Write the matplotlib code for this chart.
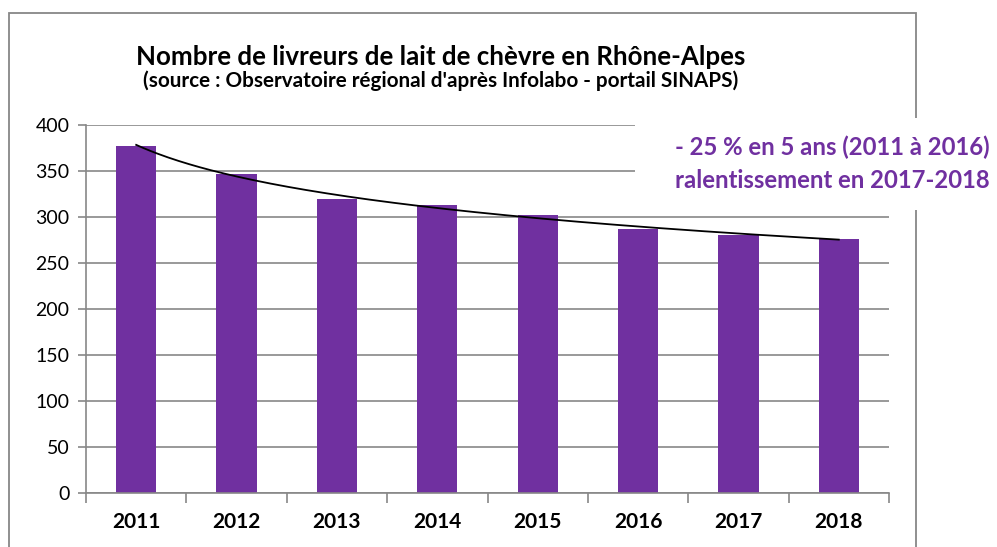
import numpy as np
import matplotlib
matplotlib.use("Agg")
import matplotlib.pyplot as plt
from matplotlib.patches import Rectangle

years = ["2011", "2012", "2013", "2014", "2015", "2016", "2017", "2018"]
livreurs = [377, 347, 320, 313, 302, 287, 280, 276]
yticks = [0, 50, 100, 150, 200, 250, 300, 350, 400]
title = "Nombre de livreurs de lait de chèvre en Rhône-Alpes"
subtitle = "(source : Observatoire régional d'après Infolabo - portail SINAPS)"
note_lines = ["- 25 % en 5 ans (2011 à 2016)", "ralentissement en 2017-2018"]

W, H = 997, 547
PURPLE = "#7030A0"
GRAY = "#878787"
FONT = ["Lato", "DejaVu Sans"]

plt.rcParams['font.family'] = FONT

fig = plt.figure(figsize=(W / 100, H / 100), dpi=100)
fx = lambda px: px / W
fy = lambda py: 1 - py / H

# outer chart border
fig.patches.append(Rectangle((fx(9), fy(560)), fx(916) - fx(9), fy(13) - fy(560),
                             transform=fig.transFigure, fill=False,
                             edgecolor=GRAY, lw=1.3, zorder=0.5))

ax = fig.add_axes([fx(86), fy(493), fx(889) - fx(86), fy(125) - fy(493)])
ax.set_zorder(1)
x = np.arange(len(years))
ax.bar(x, livreurs, width=0.4, color=PURPLE, zorder=2)

# logarithmic trend line fitted on the data (as in the spreadsheet)
n = np.arange(1, len(years) + 1)
b, a = np.polyfit(np.log(n), livreurs, 1)
nn = np.linspace(1, len(years), 200)
ax.plot(nn - 1, a + b * np.log(nn), color="black", lw=1.3, zorder=3)

ax.set_xlim(-0.5, len(years) - 0.5)
ax.set_ylim(0, 400)
ax.set_yticks(yticks)
ax.set_yticklabels([str(v) for v in yticks], fontsize=14)
ax.yaxis.grid(True, color=GRAY, lw=1.2, zorder=0)
ax.set_axisbelow(True)
ax.tick_params(axis='y', length=6, width=1.2, color=GRAY, pad=6)

ax.set_xticks(np.arange(len(years) + 1) - 0.5)
ax.set_xticklabels([])
ax.set_xticks(x, minor=True)
ax.set_xticklabels(years, minor=True, fontsize=15, fontweight='bold')
ax.tick_params(axis='x', which='major', length=7, width=1.2, color=GRAY, direction='out')
ax.tick_params(axis='x', which='minor', length=0, pad=14)

for s in ["top", "right"]:
    ax.spines[s].set_visible(False)
for s in ["left", "bottom"]:
    ax.spines[s].set_color(GRAY)
    ax.spines[s].set_linewidth(1.2)
ax.patch.set_alpha(0)

fig.text(fx(441), fy(65), title, ha='center', va='baseline', fontsize=18.6,
         fontweight='bold', color='black')
fig.text(fx(441), fy(87), subtitle, ha='center', va='baseline', fontsize=14.9,
         fontweight='bold', color='black')

# white box of the annotation covering the top-right of the chart
fig.patches.append(Rectangle((fx(635), fy(210)), fx(997) - fx(635), fy(118) - fy(210),
                             transform=fig.transFigure, facecolor='white',
                             edgecolor='none', zorder=5))
fig.text(fx(832), fy(155), note_lines[0], ha='center', va='baseline', fontsize=17.2,
         fontweight='bold', color=PURPLE, zorder=6)
fig.text(fx(832), fy(188), note_lines[1], ha='center', va='baseline', fontsize=17.2,
         fontweight='bold', color=PURPLE, zorder=6)

fig.savefig("out.png", dpi=100)
